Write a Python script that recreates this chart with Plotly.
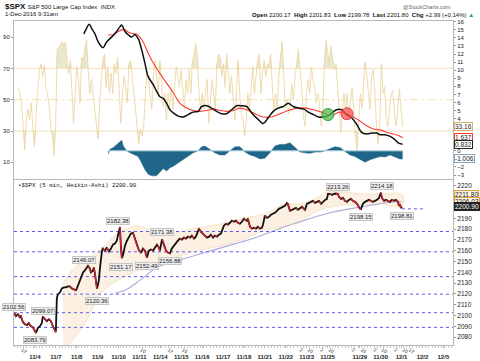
import plotly.graph_objects as go
import numpy as np

# ---------------- data ----------------
# time axis: trading days since 3-Nov-2016 open (each regular session = 1 unit)
price_t = [0.02,0.09,0.19,0.28,0.33,0.43,0.52,0.62,0.71,0.81,0.90,0.98,
 1.05,1.14,1.24,1.33,1.38,1.48,1.57,1.67,1.77,1.86,1.96,2.00,
 2.05,2.10,2.20,2.29,2.39,2.48,2.58,2.67,2.77,2.87,2.96,3.01,
 3.11,3.20,3.30,3.39,3.49,3.54,3.63,3.68,3.78,3.82,3.87,3.92,3.97,4.01,
 4.06,4.11,4.16,4.21,4.25,4.35,4.44,4.54,4.64,4.73,4.83,4.92,4.97,
 5.07,5.11,5.16,5.21,5.31,5.40,5.50,5.59,5.69,5.78,5.88,5.98,
 6.07,6.17,6.26,6.36,6.45,6.55,6.65,6.74,6.84,6.93,6.98,
 7.08,7.17,7.27,7.36,7.46,7.55,7.65,7.75,7.84,7.94,8.03,
 8.13,8.22,8.32,8.42,8.51,8.61,8.70,8.80,8.85,8.94,9.04,
 9.13,9.23,9.33,9.42,9.52,9.61,9.71,9.80,9.90,9.99,10.04,
 10.14,10.23,10.33,10.42,10.52,10.62,10.71,10.81,10.90,11.00,11.05,
 11.14,11.19,11.29,11.38,11.48,11.57,11.67,11.77,11.86,11.91,12.00,
 12.10,12.20,12.29,12.39,12.48,12.58,12.67,12.77,12.87,12.96,13.06,
 13.10,13.20,13.30,13.39,13.49,13.58,13.68,13.78,13.87,13.92,14.01,
 14.11,14.21,14.30,14.40,14.50,14.59,14.69,14.78,14.88,14.97,
 15.02,15.11,15.21,15.31,15.40,15.50,15.54,
 15.64,15.74,15.83,15.93,16.02,16.12,16.21,16.31,16.41,16.50,16.55,
 16.60,16.69,16.79,16.88,16.98,17.07,17.17,17.27,17.36,17.46,17.51,
 17.55,17.60,17.70,17.79,17.89,17.98,18.08,18.18,18.27,18.37,18.41,18.46,18.51,18.56]
price_c = [2102.1,2099.4,2101.2,2098.4,2099.4,2093.8,2092.0,2091.1,2092.9,2090.1,2089.2,2086.5,
 2083.8,2088.3,2090.1,2092.9,2099.1,2096.6,2094.7,2096.6,2094.7,2090.1,2086.5,2084.6,
 2116.0,2119.6,2121.5,2125.1,2126.1,2126.1,2127.0,2127.0,2125.1,2124.2,2123.3,2125.1,
 2129.7,2134.3,2139.9,2141.7,2145.4,2146.1,2143.6,2139.9,2141.7,2144.5,2139.0,2130.7,2125.0,2127.9,
 2132.5,2143.6,2152.8,2160.1,2162.0,2160.1,2162.9,2159.2,2162.0,2165.7,2166.6,2169.3,2174.0,
 2182.0,2164.7,2153.0,2155.5,2164.7,2169.3,2173.0,2175.8,2176.7,2171.2,2164.7,2160.1,
 2158.3,2162.0,2160.1,2153.5,2160.1,2161.1,2160.1,2162.9,2165.7,2162.9,2160.1,
 2170.5,2164.7,2160.1,2158.3,2157.5,2162.0,2164.7,2167.5,2169.3,2171.2,2170.3,
 2172.1,2171.2,2173.0,2172.1,2174.0,2171.2,2173.0,2178.6,2180.4,2177.6,2175.8,
 2174.0,2172.1,2173.0,2174.9,2172.1,2174.0,2173.0,2174.9,2175.8,2181.3,2183.2,
 2185.0,2184.1,2185.9,2187.8,2186.8,2187.8,2185.9,2185.0,2186.8,2189.6,2188.7,
 2187.8,2189.6,2182.2,2180.4,2181.3,2180.4,2182.2,2180.4,2181.3,2184.1,2192.4,
 2190.5,2191.4,2193.3,2194.2,2195.1,2197.0,2198.8,2199.7,2200.7,2201.6,2204.3,
 2203.4,2197.0,2197.9,2198.8,2199.7,2197.9,2199.7,2200.7,2198.8,2197.9,2203.4,
 2204.3,2205.3,2206.2,2204.3,2205.3,2206.2,2203.4,2205.3,2207.1,2208.0,
 2212.6,2212.6,2211.7,2212.6,2213.0,2212.6,2209.9,
 2208.0,2208.9,2206.2,2205.3,2207.1,2208.0,2206.2,2205.3,2203.4,2199.7,2198.8,
 2198.5,2203.4,2205.3,2206.2,2207.1,2206.2,2205.3,2206.2,2207.1,2208.9,2213.0,
 2213.8,2208.9,2206.2,2207.1,2206.2,2205.3,2207.1,2206.2,2207.1,2205.3,2201.6,2203.4,2199.5,2200.9]
assert len(price_t) == len(price_c)

band_up_t = [2.34,2.58,3.01,3.63,4.25,4.92,5.55,5.88,6.50,6.74,7.70,8.80,9.95,11.05,12.00,12.96,13.68,14.40,15.02,16.65,17.41,18.56]
band_up   = [2129.7,2137.1,2146.3,2153.7,2162.9,2175.8,2181.3,2183.2,2178.6,2175.0,2176.7,2181.3,2185.0,2190.5,2194.2,2203.4,2203.4,2208.0,2214.5,2212.6,2212.6,2211.8]
band_lo_t = [2.34,2.67,3.30,3.73,4.01,4.59,5.21,5.88,6.65,7.70,8.80,9.95,11.05,12.00,13.10,13.68,14.40,15.50,16.65,17.60,18.56]
band_lo   = [2066.0,2074.5,2089.2,2104.9,2116.8,2127.9,2135.3,2141.7,2146.5,2153.7,2160.1,2164.7,2171.2,2178.6,2183.2,2185.9,2196.1,2201.6,2202.5,2203.4,2200.7]

sma_t = [4.83,5.31,6.02,6.84,8.32,9.95,11.53,13.10,13.68,15.11,16.65,18.22,18.56]
sma_v = [2120.5,2123.3,2132.5,2144.5,2153.7,2162.9,2172.1,2183.2,2186.8,2195.1,2200.7,2205.3,2205.3]

levels = [2177.8, 2159.0, 2136.0, 2119.8, 2102.6, 2089.0]
last_level_t = [18.56, 19.6]
last_level = 2198.8

hilo_t = [0.0, 1.0, 1.38, 3.35, 3.97, 4.97, 5.12, 6.36, 7.08, 7.46, 15.5, 16.6, 17.6, 18.56]
hilo_v = [2102.56, 2083.79, 2099.07, 2146.07, 2120.36, 2182.38, 2151.17, 2152.49, 2171.38, 2156.88, 2213.26, 2198.15, 2214.18, 2198.81]
hilo_is_high = [True, False, True, True, False, True, False, False, True, False, True, False, True, False]

price_tags = [("2211.80", 2211.80), ("2206.03", 2206.03), ("2200.90", 2200.90)]

rsi_v = [58,54,48,31,18,37,44,37,48,33,20,41,58,69,73,65,72,58,54,46,33,27,14,33,82,84,86,87,85,87,
 75,67,75,54,35,54,71,63,48,77,75,84,88,69,54,63,54,41,33,25,48,63,75,79,58,71,54,67,54,73,
 67,77,54,35,54,65,58,48,73,75,65,56,44,33,22,31,27,33,50,69,63,54,44,65,75,65,54,75,58,46,
 54,37,54,46,58,44,58,71,65,58,69,58,44,63,54,69,54,75,79,86,77,54,44,54,44,54,63,35,50,63,
 54,44,73,79,77,65,73,58,79,67,54,65,48,37,54,
 75,54,41,37,27,37,54,44,58,71,54,65,75,79,54,67,75,65,73,71,79,58,44,54,44,65,79,87,67,44,
 50,41,48,60,50,65,73,82,69,58,41,33,54,63,54,71,63,58,48,54,46,33,44,75,88,79,73,84,75,69,
 73,58,44,29,44,54,44,54,39,50,58,44,27,18,33,54,44,58,74,65,54,44,65,69,54,33,22,37,73,54,
 58,37,33,44,54,56,41,33,48,57,44,33.16]
rsi_start, rsi_end = 0.2, 18.59

macd_t = [3.34,3.47,3.60,3.71,3.87,4.03,4.19,4.27,4.43,4.67,4.91,5.07,5.15,5.31,5.46,5.63,5.78,5.94,
 6.11,6.26,6.42,6.66,6.82,6.98,7.14,7.30,7.46,7.62,7.86,8.10,8.33,8.57,8.81,8.98,9.22,9.45,9.69,
 9.93,10.17,10.41,10.65,10.81,11.13,11.37,11.68,11.92,12.16,12.40,12.64,12.88,13.12,13.36,13.60,
 13.84,14.08,14.32,14.56,14.79,14.99,15.20,15.43,15.67,15.91,16.15,16.39,16.63,16.87,17.11,17.35,
 17.51,17.75,17.99,18.22,18.38,18.59]
macd_v = [14.5,15.2,15.7,15.2,14.5,13.5,12.9,12.8,13.5,14.1,14.8,15.4,15.6,14.8,14.4,14.1,14.4,13.9,
 12.5,10.9,9.2,8.2,7.4,6.7,6.5,5.9,5.1,4.7,4.3,4.2,4.5,4.8,4.9,5.5,5.6,5.3,4.9,
 4.6,4.6,5.1,5.6,5.6,5.5,4.7,3.9,3.4,4.1,4.9,5.3,5.5,5.9,5.5,5.3,
 5.2,4.8,4.5,4.2,4.2,4.3,4.7,5.1,5.1,4.5,4.1,3.3,2.3,2.1,2.2,2.2,
 2.0,2.0,1.8,1.4,1.0,0.832]
sig_t = [4.51,4.75,4.99,5.15,5.31,5.55,5.87,6.02,6.18,6.42,6.66,6.98,7.30,7.62,7.94,8.26,8.57,8.89,
 9.22,9.53,9.85,10.17,10.49,10.81,11.13,11.53,11.92,12.32,12.72,13.12,13.52,13.92,14.32,14.72,14.99,
 15.27,15.59,15.91,16.23,16.55,16.87,17.19,17.51,17.83,18.14,18.38,18.59]
sig_v = [14.4,14.4,14.8,15.0,15.0,14.6,14.5,14.1,13.5,12.1,10.9,9.6,8.4,7.2,5.9,5.3,5.0,4.9,
 5.0,5.2,5.0,4.9,5.0,5.3,5.1,4.6,4.2,4.2,4.6,5.0,5.3,5.3,5.1,4.8,4.5,
 4.5,4.8,4.6,4.2,3.7,3.1,2.7,2.6,2.3,2.1,1.9,1.637]
hist_t = [4.51,4.59,4.75,4.91,5.07,5.15,5.23,5.39,5.55,5.78,5.94,6.11,6.26,6.42,6.58,6.82,6.98,7.14,
 7.30,7.46,7.62,7.86,8.10,8.33,8.57,8.81,8.98,9.13,9.37,9.61,9.85,10.09,10.33,10.57,10.81,
 11.05,11.29,11.53,11.77,12.01,12.24,12.48,12.72,12.96,13.20,13.44,13.68,13.92,14.16,14.40,14.64,
 14.88,15.11,15.35,15.59,15.83,16.07,16.31,16.55,16.79,17.03,17.27,17.51,17.75,17.99,18.22,18.46,18.59]
hist_v = [-0.4,0.2,0.4,0.8,1.2,1.3,0.6,0.0,-0.25,-0.5,-0.7,-1.5,-2.3,-2.9,-3.1,-3.1,-2.7,-2.2,
 -2.5,-2.1,-1.9,-1.5,-1.1,-0.7,-0.25,0.0,0.5,0.6,0.2,-0.25,-0.5,-0.5,0.0,0.5,0.5,
 -0.15,-0.5,-0.7,-1.0,-0.9,-0.25,0.6,0.8,0.8,1.0,0.4,-0.15,-0.25,-0.3,-0.15,-0.15,
 0.0,0.25,0.5,0.4,0.0,-0.5,-0.7,-1.1,-1.4,-1.1,-0.9,-0.7,-0.75,-0.5,-0.75,-1.0,-1.006]
assert len(macd_t) == len(macd_v) and len(sig_t) == len(sig_v) and len(hist_t) == len(hist_v)

cross_t = [15.02, 15.93]
cross_v = [4.5, 4.6]
cross_up = [True, False]

top_tags = [("33.16", 33.16, "rsi"), ("1.637", 1.637, "sig"), ("0.832", 0.832, "macd"), ("-1.006", -1.006, "hist")]

day_ticks = [1, 2, 3, 4, 5, 6, 7, 8, 9, 10, 11, 12, 13, 14, 15, 16.54, 17.54, 18.54, 19.54, 20.54]
day_labels = ["11/4", "11/7", "11/8", "11/9", "11/10", "11/11", "11/14", "11/15", "11/16", "11/17",
              "11/18", "11/21", "11/22", "11/23", "11/25", "11/29", "11/30", "12/1", "12/2", "12/5"]
hour_ticks = [0.385, 6.077, 7.385, 8.077, 13.69, 14.077, 14.69, 15.077, 16.19, 16.62, 17.23, 17.62, 18.23, 18.62, 18.92]
hour_labels = ["12", "10", "12", "10", "2", "10", "2", "10", "2", "10", "2", "10", "2", "10", "12"]

# ---------------- layout geometry ----------------
W, H = 480, 361
XD = [14 / W, 453 / W]
TOP = [1 - 177.5 / H, 1 - 19.5 / H]
BOT = [1 - 345 / H, 1 - 179 / H]
XR = [0, 21]
PR = [2072.6, 2225.5]
RR = [-0.3, 100.0]
MR = [-3.43, 16.05]

FONT = "Liberation Sans, Arial, sans-serif"
BEIGE = "#ecd7a4"
DOT = "#5a5af5"

fig = go.Figure()

# ---- top panel: RSI ----
rsi_t = np.linspace(rsi_start, rsi_end, len(rsi_v))
rsi_hi = [max(v, 70) for v in rsi_v]
rsi_lo = [min(v, 30) for v in rsi_v]
fig.add_trace(go.Scatter(x=rsi_t, y=[70] * len(rsi_v), xaxis="x2", yaxis="y2", mode="lines",
                         line=dict(width=0), hoverinfo="skip", showlegend=False))
fig.add_trace(go.Scatter(x=rsi_t, y=rsi_hi, xaxis="x2", yaxis="y2", mode="lines", fill="tonexty",
                         fillcolor="rgba(205,205,150,0.45)", line=dict(width=0), hoverinfo="skip", showlegend=False))
fig.add_trace(go.Scatter(x=rsi_t, y=[30] * len(rsi_v), xaxis="x2", yaxis="y2", mode="lines",
                         line=dict(width=0), hoverinfo="skip", showlegend=False))
fig.add_trace(go.Scatter(x=rsi_t, y=rsi_lo, xaxis="x2", yaxis="y2", mode="lines", fill="tonexty",
                         fillcolor="rgba(205,205,150,0.45)", line=dict(width=0), hoverinfo="skip", showlegend=False))
for lv, dash in [(70, "solid"), (50, "dashdot"), (30, "solid")]:
    fig.add_trace(go.Scatter(x=XR, y=[lv, lv], xaxis="x2", yaxis="y2", mode="lines",
                             line=dict(color="#f3e2b8", width=1, dash=dash), hoverinfo="skip", showlegend=False))
fig.add_trace(go.Scatter(x=rsi_t, y=rsi_v, xaxis="x2", yaxis="y2", mode="lines",
                         line=dict(color=BEIGE, width=0.9), showlegend=False))

# ---- top panel: MACD ----
fig.add_trace(go.Scatter(x=hist_t, y=hist_v, xaxis="x2", yaxis="y3", mode="lines", fill="tozeroy",
                         fillcolor="#1f6689", line=dict(color="#1f6689", width=0.5), showlegend=False))
fig.add_trace(go.Scatter(x=[hist_t[0], hist_t[-1]], y=[0, 0], xaxis="x2", yaxis="y3", mode="lines",
                         line=dict(color="#b9d2e2", width=1), hoverinfo="skip", showlegend=False))
fig.add_trace(go.Scatter(x=sig_t, y=sig_v, xaxis="x2", yaxis="y3", mode="lines",
                         line=dict(color="#ff3b30", width=1.1, shape="spline"), showlegend=False))
fig.add_trace(go.Scatter(x=macd_t, y=macd_v, xaxis="x2", yaxis="y3", mode="lines",
                         line=dict(color="#111111", width=1.5, shape="spline"), showlegend=False))
fig.add_trace(go.Scatter(x=cross_t, y=cross_v, xaxis="x2", yaxis="y3", mode="markers",
                         marker=dict(size=12, color=["rgba(80,190,80,0.75)" if u else "rgba(255,80,80,0.75)" for u in cross_up],
                                     line=dict(color=["#3c9a3c" if u else "#dd4444" for u in cross_up], width=1)),
                         showlegend=False))

# ---- bottom panel: price ----
fig.add_trace(go.Scatter(x=list(band_up_t) + list(band_lo_t[::-1]), y=list(band_up) + list(band_lo[::-1]),
                         xaxis="x", yaxis="y", mode="lines", fill="toself", fillcolor="rgba(246,222,190,0.45)",
                         line=dict(color="rgba(240,205,160,0.6)", width=0.8, shape="spline"),
                         hoverinfo="skip", showlegend=False))
fig.add_trace(go.Scatter(x=sma_t, y=sma_v, xaxis="x", yaxis="y", mode="lines",
                         line=dict(color="#aaaad8", width=1.1, shape="spline"), showlegend=False))
for lv in levels:
    fig.add_trace(go.Scatter(x=XR, y=[lv, lv], xaxis="x", yaxis="y", mode="lines",
                             line=dict(color=DOT, width=1, dash="dot"), hoverinfo="skip", showlegend=False))
fig.add_trace(go.Scatter(x=last_level_t, y=[last_level, last_level], xaxis="x", yaxis="y", mode="lines",
                         line=dict(color=DOT, width=1, dash="dot"), hoverinfo="skip", showlegend=False))

fig.add_trace(go.Scatter(x=price_t, y=price_c, xaxis="x", yaxis="y", mode="lines",
                         line=dict(color="#111111", width=1.8), showlegend=False))
rx, ry = [], []
for i in range(1, len(price_c)):
    if price_c[i] < price_c[i - 1]:
        rx += [price_t[i - 1], price_t[i], None]
        ry += [price_c[i - 1], price_c[i], None]
fig.add_trace(go.Scatter(x=rx, y=ry, xaxis="x", yaxis="y", mode="lines",
                         line=dict(color="#e0202a", width=1.3), hoverinfo="skip", showlegend=False))
# axis-only trace for hour labels axis
fig.add_trace(go.Scatter(x=[hour_ticks[0]], y=[PR[0]], xaxis="x3", yaxis="y", mode="markers",
                         marker=dict(opacity=0), hoverinfo="skip", showlegend=False))

annotations = []
for t, v, hi in zip(hilo_t, hilo_v, hilo_is_high):
    annotations.append(dict(x=t, y=v, xref="x", yref="y", text=f"{v:.2f}", showarrow=False,
                            yshift=6 if hi else -7, font=dict(family=FONT, size=6, color="#222"),
                            bgcolor="#efefef", bordercolor="#c6c6c6", borderwidth=1, borderpad=0))
for txt, v in price_tags:
    dark = txt == price_tags[-1][0]
    annotations.append(dict(x=XD[1], y=v, xref="paper", yref="y", text=txt, showarrow=False,
                            xanchor="left", xshift=1, font=dict(family=FONT, size=6.5, color="#fff" if dark else "#222"),
                            bgcolor="#222" if dark else "#fff8e6", bordercolor="#222" if dark else "#e0a040",
                            borderwidth=1, borderpad=0))
tag_style = {"rsi": ("#d4b062", "y2"), "sig": ("#ff3b30", "y3"), "macd": ("#222", "y3"), "hist": ("#7fa6c8", "y3")}
for txt, v, kind in top_tags:
    col, ax = tag_style[kind]
    annotations.append(dict(x=XD[1], y=v, xref="paper", yref=ax, text=txt, showarrow=False,
                            xanchor="left", xshift=1, font=dict(family=FONT, size=6.5, color="#222"),
                            bgcolor="#ffffff", bordercolor=col, borderwidth=1, borderpad=0))
# headers
annotations += [
    dict(x=3 / W, y=1 - 5 / H, xref="paper", yref="paper", xanchor="left", yanchor="middle", showarrow=False,
         text="<b>$SPX</b> <span style='font-size:6px'>S&amp;P 500 Large Cap Index  INDX</span>",
         font=dict(family=FONT, size=8, color="#111")),
    dict(x=3 / W, y=1 - 12.5 / H, xref="paper", yref="paper", xanchor="left", yanchor="middle", showarrow=False,
         text="1-Dec-2016 9:31am", font=dict(family=FONT, size=6, color="#111")),
    dict(x=453 / W, y=1 - 5 / H, xref="paper", yref="paper", xanchor="right", yanchor="middle", showarrow=False,
         text="@StockCharts.com", font=dict(family=FONT, size=5.5, color="#666")),
    dict(x=476 / W, y=1 - 13 / H, xref="paper", yref="paper", xanchor="right", yanchor="middle", showarrow=False,
         text="<b>Open</b> 2200.17  <b>High</b> 2201.83  <b>Low</b> 2199.78  <b>Last</b> 2201.80  <b>Chg</b> +2.99 (+0.14%) <span style='color:#22aa22'>▲</span>",
         font=dict(family=FONT, size=6, color="#111")),
    dict(x=16 / W, y=1 - 184.5 / H, xref="paper", yref="paper", xanchor="left", yanchor="middle", showarrow=False,
         text="<span style='color:#333'>▪</span>$SPX (5 min, Heikin-Ashi) 2200.90",
         font=dict(family="Liberation Mono, monospace", size=5.8, color="#111")),
]

axis_common = dict(showgrid=False, zeroline=False, linecolor="#b8b8b8", linewidth=1, mirror=True, showline=True)
fig.update_layout(
    width=W, height=H, margin=dict(l=0, r=0, t=0, b=0),
    paper_bgcolor="white", plot_bgcolor="white", showlegend=False,
    xaxis=dict(domain=XD, range=XR, anchor="y", tickmode="array", tickvals=day_ticks, ticktext=[f"<b>{s}</b>" for s in day_labels],
               tickfont=dict(family=FONT, size=6, color="#222"), ticks="outside", ticklen=2, tickcolor="#b8b8b8",
               ticklabelstandoff=4, minor=dict(ticks="outside", ticklen=2, dtick=1 / 6.5, tick0=0, tickcolor="#c8c8c8"),
               **axis_common),
    xaxis3=dict(overlaying="x", range=XR, anchor="y", side="bottom", tickmode="array", tickvals=hour_ticks, ticktext=hour_labels,
                tickfont=dict(family=FONT, size=5, color="#333"), ticks="", showline=False, showgrid=False,
                zeroline=False, ticklabelstandoff=0),
    yaxis=dict(domain=BOT, range=PR, anchor="x", side="right", tickmode="linear", tick0=2080, dtick=10,
               tickfont=dict(family=FONT, size=6.5, color="#222"), ticks="outside", ticklen=2, tickcolor="#999",
               **axis_common),
    xaxis2=dict(domain=XD, range=XR, anchor="y2", showticklabels=False, ticks="", **axis_common),
    yaxis2=dict(domain=TOP, range=RR, anchor="x2", side="left", tickmode="array", tickvals=[10, 30, 50, 70, 90],
                tickfont=dict(family=FONT, size=6, color="#222"), ticks="outside", ticklen=2, tickcolor="#999",
                **axis_common),
    yaxis3=dict(overlaying="y2", range=MR, anchor="x2", side="right", tickmode="linear", tick0=0, dtick=1,
                tickfont=dict(family=FONT, size=6, color="#222"), ticks="outside", ticklen=2, tickcolor="#999",
                showgrid=False, zeroline=False, showline=False),
    annotations=annotations,
)

fig.write_html("out.html", include_plotlyjs=True, config={"displayModeBar": False},
               post_script="document.body.style.margin='0';document.body.style.overflow='hidden';")
